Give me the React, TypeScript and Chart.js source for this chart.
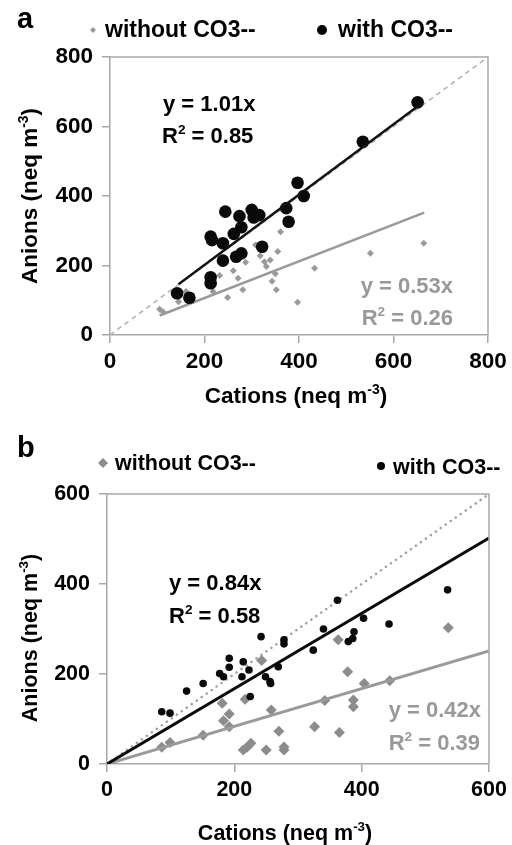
import React, { useEffect, useRef } from "react";
import { Chart, registerables } from "chart.js";

Chart.register(...registerables);

const FONT = "'Liberation Sans', Arial, Helvetica, sans-serif";

// ---------- Panel a ----------
const aTicks = [0, 200, 400, 600, 800];
const aWithoutX = [105, 112, 145, 161, 218, 232, 249, 261, 271, 281, 287, 308, 318, 327, 331, 339, 343, 352, 350, 355, 361, 397, 433, 551, 664];
const aWithoutY = [74, 67, 96, 125, 125, 171, 108, 185, 163, 130, 209, 259, 228, 211, 197, 216, 155, 130, 176, 240, 297, 94, 192, 235, 264];
const aWithX = [142, 168, 213, 216, 239, 244, 239, 213, 213, 262, 274, 278, 267, 278, 300, 304, 316, 322, 373, 378, 397, 410, 535, 651];
const aWithY = [120, 107, 283, 273, 264, 355, 214, 166, 149, 291, 342, 310, 225, 235, 360, 338, 345, 254, 365, 326, 438, 400, 556, 670];
const aFitWithX = [145, 660];
const aFitWithY = [146, 667];
const aFitWithoutX = [105, 665];
const aFitWithoutY = [56, 352];
const aOneX = [0, 800];
const aOneY = [0, 800];

// ---------- Panel b ----------
const bTicks = [0, 200, 400, 600];
const bWithoutX = [86, 99, 151, 181, 192, 183, 192, 214, 220, 226, 217, 243, 250, 258, 270, 278, 278, 326, 342, 365, 363, 378, 387, 387, 404, 444, 536];
const bWithoutY = [37, 48, 64, 135, 111, 96, 83, 31, 37, 46, 144, 230, 31, 120, 73, 38, 31, 83, 141, 70, 276, 205, 142, 127, 179, 185, 303];
const bWithX = [86, 99, 125, 151, 177, 183, 192, 192, 214, 223, 212, 225, 242, 249, 256, 257, 269, 278, 278, 324, 340, 362, 379, 386, 388, 403, 443, 535];
const bWithY = [116, 113, 162, 179, 201, 194, 235, 215, 227, 209, 194, 150, 283, 194, 183, 179, 216, 276, 267, 253, 300, 364, 272, 279, 294, 324, 311, 387];
const bFitWithX = [0, 600];
const bFitWithY = [0, 502];
const bFitWithoutX = [0, 600];
const bFitWithoutY = [0, 251];
const bOneX = [0, 600];
const bOneY = [0, 600];

const pts = (xs: number[], ys: number[]) => xs.map((x, i) => ({ x, y: ys[i] }));

type Part = { t: string; sup?: boolean };

function fontStr(size: number) {
  return `bold ${size}px ${FONT}`;
}

function richWidth(ctx: CanvasRenderingContext2D, parts: Part[], size: number) {
  let w = 0;
  for (const p of parts) {
    ctx.font = fontStr(p.sup ? size * 0.62 : size);
    w += ctx.measureText(p.t).width;
  }
  return w;
}

function drawRich(
  ctx: CanvasRenderingContext2D,
  parts: Part[],
  x: number,
  y: number,
  size: number,
  color: string,
  align: "left" | "right" | "center"
) {
  const w = richWidth(ctx, parts, size);
  let cx = align === "left" ? x : align === "right" ? x - w : x - w / 2;
  ctx.fillStyle = color;
  ctx.textBaseline = "alphabetic";
  ctx.textAlign = "left";
  for (const p of parts) {
    const s = p.sup ? size * 0.62 : size;
    ctx.font = fontStr(s);
    ctx.fillText(p.t, cx, p.sup ? y - size * 0.42 : y);
    cx += ctx.measureText(p.t).width;
  }
}

function diamond(ctx: CanvasRenderingContext2D, x: number, y: number, r: number, color: string) {
  ctx.beginPath();
  ctx.moveTo(x - r, y);
  ctx.lineTo(x, y - r);
  ctx.lineTo(x + r, y);
  ctx.lineTo(x, y + r);
  ctx.closePath();
  ctx.fillStyle = color;
  ctx.fill();
}

function circle(ctx: CanvasRenderingContext2D, x: number, y: number, r: number, color: string) {
  ctx.beginPath();
  ctx.arc(x, y, r, 0, Math.PI * 2);
  ctx.fillStyle = color;
  ctx.fill();
}

const AXIS_GRAY = "#a8a8a8";

function axis(ticks: number[], fontSize: number, kind: "x" | "y", fitSize: number) {
  return {
    type: "linear" as const,
    position: kind === "x" ? ("bottom" as const) : ("left" as const),
    min: ticks[0],
    max: ticks[ticks.length - 1],
    afterBuildTicks: (s: any) => {
      s.ticks = ticks.map((v) => ({ value: v }));
    },
    afterFit: (s: any) => {
      if (kind === "x") s.height = fitSize;
      else s.width = fitSize;
    },
    grid: {
      drawOnChartArea: false,
      drawTicks: true,
      tickLength: 8,
      color: AXIS_GRAY,
      lineWidth: 1.5,
    },
    border: { display: true, color: AXIS_GRAY, width: 1.5 },
    ticks: {
      color: "#000",
      font: { family: FONT, size: fontSize, weight: "bold" as const },
      padding: kind === "x" ? 5 : 9,
      maxRotation: 0,
      autoSkip: false,
    },
    title: { display: false },
  };
}

function framePlugin() {
  return {
    id: "frame",
    afterDraw(chart: any) {
      const { ctx, chartArea } = chart;
      ctx.save();
      ctx.strokeStyle = AXIS_GRAY;
      ctx.lineWidth = 1.5;
      ctx.beginPath();
      ctx.moveTo(chartArea.left, chartArea.top);
      ctx.lineTo(chartArea.right, chartArea.top);
      ctx.lineTo(chartArea.right, chartArea.bottom);
      ctx.stroke();
      ctx.restore();
    },
  };
}

function configA(): any {
  return {
    type: "scatter",
    data: {
      datasets: [
        {
          label: "with fit",
          data: pts(aFitWithX, aFitWithY),
          showLine: true,
          borderColor: "#111",
          borderWidth: 2.5,
          pointRadius: 0,
          order: 0,
        },
        {
          label: "with CO3--",
          data: pts(aWithX, aWithY),
          pointStyle: "circle",
          pointRadius: 6.3,
          backgroundColor: "#0a0a0a",
          borderColor: "#0a0a0a",
          borderWidth: 0,
          order: 1,
        },
        {
          label: "without fit",
          data: pts(aFitWithoutX, aFitWithoutY),
          showLine: true,
          borderColor: "#9a9a9a",
          borderWidth: 2.5,
          pointRadius: 0,
          order: 2,
        },
        {
          label: "without CO3--",
          data: pts(aWithoutX, aWithoutY),
          pointStyle: "rectRot",
          pointRadius: 3.5,
          backgroundColor: "#9a9a9a",
          borderColor: "#9a9a9a",
          borderWidth: 0,
          order: 3,
        },
        {
          label: "1:1",
          data: pts(aOneX, aOneY),
          showLine: true,
          borderColor: "#b0b0b0",
          borderWidth: 1.5,
          borderDash: [5, 4],
          pointRadius: 0,
          order: 4,
        },
      ],
    },
    options: {
      responsive: false,
      animation: false,
      devicePixelRatio: 1,
      layout: { padding: { left: 0, right: 24, top: 57, bottom: 0 } },
      scales: {
        x: axis(aTicks, 22.5, "x", 85),
        y: axis(aTicks, 22.5, "y", 110),
      },
      plugins: { legend: { display: false }, tooltip: { enabled: false } },
    },
    plugins: [
      framePlugin(),
      {
        id: "decoA",
        afterDraw(chart: any) {
          const ctx: CanvasRenderingContext2D = chart.ctx;
          ctx.save();
          drawRich(ctx, [{ t: "a" }], 17, 28, 29, "#000", "left");
          diamond(ctx, 93, 30, 3, "#9a9a9a");
          drawRich(ctx, [{ t: "without CO3--" }], 105, 37, 23, "#000", "left");
          circle(ctx, 322, 30, 5, "#000");
          drawRich(ctx, [{ t: "with CO3--" }], 338, 37, 23, "#000", "left");
          drawRich(ctx, [{ t: "y = 1.01x" }], 163, 111, 22, "#000", "left");
          drawRich(ctx, [{ t: "R" }, { t: "2", sup: true }, { t: " = 0.85" }], 162, 143, 22, "#000", "left");
          drawRich(ctx, [{ t: "y = 0.53x" }], 453, 293, 22, "#999", "right");
          drawRich(ctx, [{ t: "R" }, { t: "2", sup: true }, { t: " = 0.26" }], 453, 325, 22, "#999", "right");
          drawRich(ctx, [{ t: "Cations (neq m" }, { t: "-3", sup: true }, { t: ")" }], 296, 403, 22.5, "#000", "center");
          ctx.translate(37, 196);
          ctx.rotate(-Math.PI / 2);
          drawRich(ctx, [{ t: "Anions (neq m" }, { t: "-3", sup: true }, { t: ")" }], 0, 0, 22.5, "#000", "center");
          ctx.restore();
        },
      },
    ],
  };
}

function configB(): any {
  return {
    type: "scatter",
    data: {
      datasets: [
        {
          label: "with fit",
          data: pts(bFitWithX, bFitWithY),
          showLine: true,
          borderColor: "#0a0a0a",
          borderWidth: 3,
          pointRadius: 0,
          order: 1,
        },
        {
          label: "with CO3--",
          data: pts(bWithX, bWithY),
          pointStyle: "circle",
          pointRadius: 3.8,
          backgroundColor: "#0a0a0a",
          borderColor: "#0a0a0a",
          borderWidth: 0,
          order: 0,
        },
        {
          label: "without fit",
          data: pts(bFitWithoutX, bFitWithoutY),
          showLine: true,
          borderColor: "#9a9a9a",
          borderWidth: 3,
          pointRadius: 0,
          order: 2,
        },
        {
          label: "without CO3--",
          data: pts(bWithoutX, bWithoutY),
          pointStyle: "rectRot",
          pointRadius: 5.5,
          backgroundColor: "#8c8c8c",
          borderColor: "#8c8c8c",
          borderWidth: 0,
          order: 3,
        },
        {
          label: "1:1",
          data: pts(bOneX, bOneY),
          showLine: true,
          borderColor: "#a0a0a0",
          borderWidth: 2.5,
          borderDash: [0.1, 6],
          borderCapStyle: "round",
          pointRadius: 0,
          order: 4,
        },
      ],
    },
    options: {
      responsive: false,
      animation: false,
      devicePixelRatio: 1,
      layout: { padding: { left: 0, right: 23, top: 74, bottom: 0 } },
      scales: {
        x: axis(bTicks, 21.5, "x", 81),
        y: axis(bTicks, 21.5, "y", 107),
      },
      plugins: { legend: { display: false }, tooltip: { enabled: false } },
    },
    plugins: [
      framePlugin(),
      {
        id: "decoB",
        afterDraw(chart: any) {
          const ctx: CanvasRenderingContext2D = chart.ctx;
          ctx.save();
          drawRich(ctx, [{ t: "b" }], 17, 37, 29, "#000", "left");
          diamond(ctx, 103, 43, 5, "#8c8c8c");
          drawRich(ctx, [{ t: "without CO3--" }], 115, 50, 21.5, "#000", "left");
          circle(ctx, 381, 46, 4, "#000");
          drawRich(ctx, [{ t: "with CO3--" }], 393, 54, 21.5, "#000", "left");
          drawRich(ctx, [{ t: "y = 0.84x" }], 169, 170, 22, "#000", "left");
          drawRich(ctx, [{ t: "R" }, { t: "2", sup: true }, { t: " = 0.58" }], 169, 203, 22, "#000", "left");
          drawRich(ctx, [{ t: "y = 0.42x" }], 481, 297, 22, "#999", "right");
          drawRich(ctx, [{ t: "R" }, { t: "2", sup: true }, { t: " = 0.39" }], 480, 330, 22, "#999", "right");
          drawRich(ctx, [{ t: "Cations (neq m" }, { t: "-3", sup: true }, { t: ")" }], 285, 420, 21.5, "#000", "center");
          ctx.translate(37, 218);
          ctx.rotate(-Math.PI / 2);
          drawRich(ctx, [{ t: "Anions (neq m" }, { t: "-3", sup: true }, { t: ")" }], 0, 0, 21.5, "#000", "center");
          ctx.restore();
        },
      },
    ],
  };
}

export default function App() {
  const refA = useRef<HTMLCanvasElement>(null);
  const refB = useRef<HTMLCanvasElement>(null);

  useEffect(() => {
    const ca = new Chart(refA.current as HTMLCanvasElement, configA());
    const cb = new Chart(refB.current as HTMLCanvasElement, configB());
    return () => {
      ca.destroy();
      cb.destroy();
    };
  }, []);

  return (
    <div
      style={{
        position: "absolute",
        left: 0,
        top: 0,
        width: 512,
        height: 845,
        background: "#fff",
        overflow: "hidden",
      }}
    >
      <canvas
        ref={refA}
        width={512}
        height={420}
        style={{ position: "absolute", left: 0, top: 0, width: 512, height: 420 }}
      />
      <canvas
        ref={refB}
        width={512}
        height={425}
        style={{ position: "absolute", left: 0, top: 420, width: 512, height: 425 }}
      />
    </div>
  );
}
